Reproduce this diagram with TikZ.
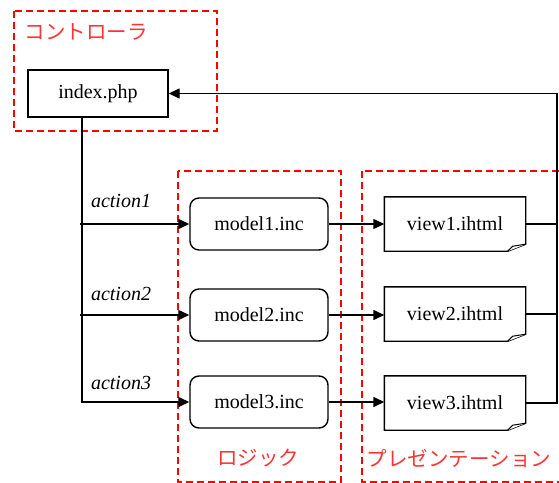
\documentclass[tikz,border=0pt]{standalone}
\usepackage{fontspec}
\setmainfont{Liberation Serif}
\newfontfamily\jpfont{Noto Sans CJK JP}
\usepackage{tikz}
\usetikzlibrary{arrows.meta,positioning}
\definecolor{grpred}{HTML}{FF0000}
\definecolor{grptext}{HTML}{FF3333}
\tikzset{
  basenode/.style={draw=black,line width=1.4pt,inner sep=2pt,font=\fontsize{20}{23}\selectfont},
  ctlnode/.style={basenode,rectangle,minimum width=140pt,minimum height=47pt},
  modnode/.style={basenode,rounded corners=9pt,minimum width=138pt,minimum height=52pt},
  viewnode/.style={basenode,draw=none,minimum width=140pt,minimum height=53pt},
  grpbox/.style={draw=grpred,line width=1.6pt,dash pattern=on 7pt off 4pt},
  grplabel/.style={text=grptext,font=\jpfont\fontsize{20.5}{22}\selectfont,inner sep=0pt},
  actlabel/.style={font=\itshape\fontsize{20}{23}\selectfont,inner sep=0pt},
  flowedge/.style={-{Triangle[length=11pt,width=10pt]},line width=1.4pt,black},
  plainedge/.style={line width=1.4pt,black},
}

\begin{document}
\begin{tikzpicture}[x=1pt,y=-1pt]
    \useasboundingbox (0,0) rectangle (559,482);
    % groups
    \draw[grpbox] (14,11) rectangle (217,131);
    \draw[grpbox] (178,171) rectangle (341,482);
    \draw[grpbox] (362,171) rectangle (562,482);
    \node[grplabel] (ctltitle) at (86,32) {コントローラ};
    \node[grplabel] (logtitle) at (258,458) {ロジック};
    \node[grplabel] (pretitle) at (459,458) {プレゼンテーション};
    % nodes
    \node[ctlnode] (index) at (98,93.5) {index.php};
    \node[modnode] (m1) at (259,224) {model1.inc};
    \node[modnode] (m2) at (259,315) {model2.inc};
    \node[modnode] (m3) at (259,402) {model3.inc};
    \foreach \i/\yy in {1/224,2/314,3/403} {
      \node[viewnode] (v\i) at (455,\yy) {view\i.ihtml};
      \draw[line width=1.4pt,line join=miter]
        (v\i.north west) -- (v\i.north east) -- ([yshift=7pt]v\i.south east)
        -- ([xshift=-18pt]v\i.south east) -- (v\i.south west) -- cycle;
      \draw[line width=1pt,fill=white]
        ([yshift=7pt]v\i.south east) -- ([xshift=-13pt,yshift=5pt]v\i.south east)
        -- ([xshift=-18pt]v\i.south east);
    }
    % action branches
    \coordinate (trunk) at (82,0);
    \coordinate (loop) at (557,0);
    \draw[flowedge] (index.south -| trunk) |- (m3);
    \draw[flowedge] (trunk |- m1) ++(-2,0) -- (m1);
    \draw[flowedge] (trunk |- m2) ++(-2,0) -- (m2);
    \node[actlabel] (a1) at (121,201) {action1};
    \node[actlabel] (a2) at (121,294) {action2};
    \node[actlabel] (a3) at (121,383) {action3};
    % model to view
    \draw[flowedge] (m1) -- (v1.west |- m1);
    \draw[flowedge] (m2) -- (v2.west |- m2);
    \draw[flowedge] (m3) -- (v3.west |- m3);
    % back to the controller
    \draw[plainedge] (v1.east) -- (v1.east -| loop);
    \draw[plainedge] (v2.east) -- (v2.east -| loop);
    \draw[flowedge] (v3.east) -| (loop |- index.east) -- (index.east);
\end{tikzpicture}
\end{document}
